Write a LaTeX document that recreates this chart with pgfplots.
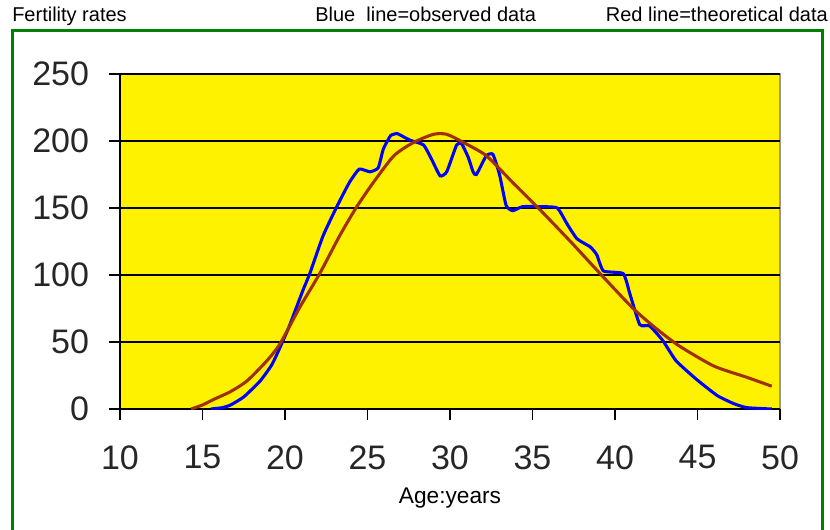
\documentclass[border=0pt]{standalone}
\usepackage{pgfplots}
\pgfplotsset{compat=1.18}
\usepackage{fontspec}
\setmainfont{Liberation Sans}
\definecolor{frame}{RGB}{0,128,0}
\definecolor{obs}{RGB}{0,0,255}
\definecolor{theo}{RGB}{160,48,0}
\begin{document}
\begin{tikzpicture}
\path[use as bounding box] (0pt,0pt) rectangle (622.5pt,-397.5pt);
\draw[frame, line width=2.25pt] (9pt,-400pt) -- (9pt,-23.25pt) -- (616.5pt,-23.25pt) -- (616.5pt,-400pt);
\node[anchor=base west, inner sep=0pt, font=\fontsize{15pt}{18pt}\selectfont] at (9pt,-16pt) {Fertility rates};
\node[anchor=base west, inner sep=0pt, font=\fontsize{15pt}{18pt}\selectfont] at (236.25pt,-16pt) {Blue\ \ line=observed data};
\node[anchor=base east, inner sep=0pt, font=\fontsize{15pt}{18pt}\selectfont] at (621pt,-16pt) {Red line=theoretical data};
\begin{axis}[
  at={(90pt,-306.75pt)}, anchor=south west,
  scale only axis, width=495pt, height=251.25pt,
  xmin=10, xmax=50, ymin=0, ymax=250,
  xtick={10,15,...,50}, ytick={0,50,...,250},
  axis lines*=left,
  axis line style={-, black, line width=1.2pt},
  axis background/.style={fill=yellow, draw=gray!80, line width=1pt},
  tick align=outside,
  major tick length=8pt,
  tick style={black, line width=1.2pt},
  ymajorgrids, grid style={black, line width=1.4pt},
  /pgf/number format/assume math mode=true,
  ticklabel style={font=\fontsize{25.5pt}{28pt}\selectfont, text=black!85},
  yticklabel style={anchor=east, inner sep=0pt, xshift=-15pt},
  xticklabel style={anchor=north, inner sep=0pt, yshift=-19pt},
  xlabel={Age:years},
  xlabel style={at={(axis description cs:0.5,0)}, anchor=base, inner sep=0pt, yshift=-70.5pt, font=\fontsize{17pt}{20pt}\selectfont},
  clip=true,
]
\addplot[obs, line width=2.3pt, smooth, tension=0.3] coordinates {
(15.5,0) (16.2,1) (16.7,3) (17.5,9) (18.5,21) (19.2,33) (19.7,46) (20.2,60)
(20.7,76) (21.1,89) (21.5,101) (22.3,129) (23.1,150) (23.9,169) (24.5,179)
(25.15,177) (25.65,180) (25.96,194) (26.4,204) (26.8,205.5) (27.2,203)
(27.6,200.5) (28.4,197) (28.9,186) (29.4,174) (29.8,177) (30.4,197) (30.7,198)
(31.1,188) (31.4,177) (31.6,175) (32.2,189) (32.6,190) (33.0,175) (33.4,152)
(33.8,148) (34.4,151) (35.5,151) (36.5,150) (37.1,138) (37.7,127) (38.5,121)
(38.9,115) (39.3,103) (40.5,101) (40.9,86) (41.5,63) (42.1,62) (42.9,51)
(43.7,36) (44.95,22) (46.2,10) (47.2,4) (48,1) (49.5,0)
};
\addplot[theo, line width=2.3pt, smooth, tension=0.4] coordinates {
(14.3,0) (15.0,3) (15.65,7) (16.7,13) (17.7,21) (18.9,36) (19.7,48.7)
(20.9,76) (22.1,101) (23.3,129) (24.3,150) (25.35,169) (26.6,189) (27.8,199)
(29.0,205) (29.8,205) (30.8,199) (32.2,189) (33.8,169) (35.35,150) (37.3,125)
(39.1,101) (41.1,75) (42.5,60) (43.9,47) (46.0,32) (48.0,23.6) (49.5,17)
};
\end{axis}
\end{tikzpicture}
\end{document}
